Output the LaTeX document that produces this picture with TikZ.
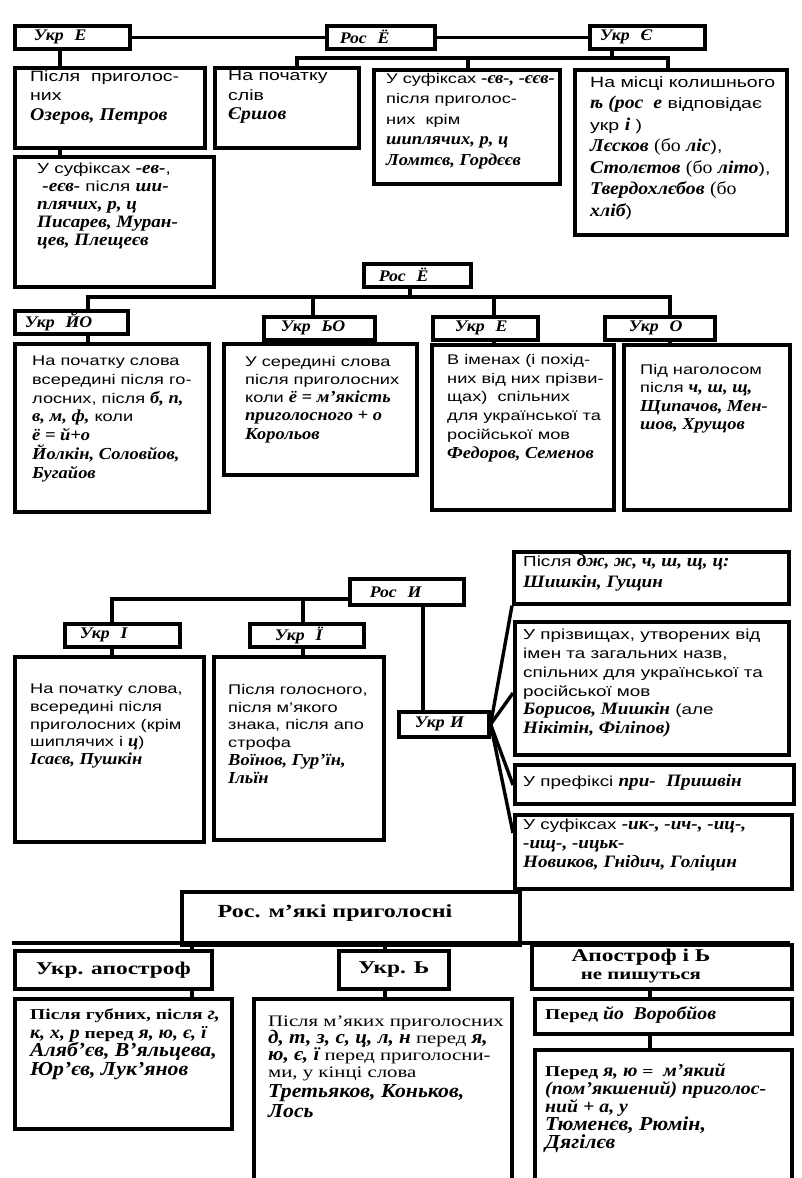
\documentclass[tikz,border=0pt]{standalone}
\usepackage{fontspec}
\setmainfont{Liberation Serif}
\newfontfamily\sansf[FakeStretch=1.3]{Liberation Sans}
\newfontfamily\bif[Scale=1.2,FakeStretch=1.1]{Liberation Serif}
\newfontfamily\serw[FakeStretch=1.3]{Liberation Serif}
\newcommand\bi[1]{{\bif\bfseries\itshape #1}}
\newcommand\rmw[1]{{\bif\mdseries\upshape #1}}
\newcommand\bil[1]{{\bif\bfseries\itshape\fontsize{16.5}{18}\selectfont #1}}
\tikzset{
  ln/.style={line width=3.4pt},
  box/.style={draw, line width=3.6pt, anchor=north west, inner sep=0pt},
  lab/.style={draw, line width=3.6pt, anchor=north west, inner ysep=0pt, align=left, minimum height=23pt,
    font=\bif\bfseries\itshape\fontsize{13.5}{15}\selectfont},
  tx/.style={anchor=north west, align=left, inner sep=0pt},
  hd/.style={draw, line width=3.6pt, anchor=north west, inner sep=0pt, align=center,
    font=\serw\bfseries\fontsize{18}{20}\selectfont},
  hdt/.style={inner sep=0pt, align=center, font=\serw\bfseries\fontsize{18}{20}\selectfont},
}
\begin{document}
\begin{tikzpicture}[x=1pt,y=-1pt]
\fill[white] (0,0) rectangle (801,1178);
\useasboundingbox (0,0) rectangle (801,1178);
\clip (0,0) rectangle (801,1178);

% ---------------- Section 1 ----------------
\node[lab, inner xsep=19pt, text width=77pt] (ue) at (13,24) {Укр\ \ Е};
\node[lab, inner xsep=13pt, text width=82pt] (re) at (325,24) {Рос\ \ Ё};
\node[lab, inner xsep=10pt, text width=95pt] (uye) at (588,24) {Укр\ \ Є};
\draw[ln] (ue) -- (re);
\draw[ln] (re) -- (uye);

\node[box, minimum width=190pt, minimum height=80pt] (b1) at (13,66) {};
\node[tx, font=\sansf\fontsize{15}{19.5}\selectfont] (t1) at (30,70) {Після\ \ приголос-\\них\\\bi{Озеров, Петров}};
\node[box, minimum width=144pt, minimum height=80pt] (b2) at (213,66) {};
\node[tx, font=\sansf\fontsize{15}{19.5}\selectfont] (t2) at (228,70) {На початку\\слів\\\bi{Єршов}};
\node[box, minimum width=186pt, minimum height=114pt] (b3) at (372,68) {};
\node[tx, font=\sansf\fontsize{14}{20.5}\selectfont] (t3) at (386,73) {У суфіксах \bi{-єв-, -єєв-}\\після приголос-\\них\ \ крім\\\bi{шиплячих, р, ц}\\\bi{Ломтєв, Гордєєв}};
\node[box, minimum width=212pt, minimum height=165pt] (b4) at (573,68) {};
\node[tx, font=\sansf\fontsize{15}{21.5}\selectfont] (t4) at (590,76) {На місці колишнього\\\bi{ѣ (рос\ \ е} відповідає\\укр \bi{і} )\\\bi{Лєсков} \rmw{(бо} \bi{ліс}),\\\bi{Столєтов} \rmw{(бо} \bi{літо}),\\\bi{Твердохлєбов} \rmw{(бо}\\\bi{хліб})};
\node[box, minimum width=199pt, minimum height=130pt] (b5) at (13,155) {};
\node[tx, font=\sansf\fontsize{14.5}{18}\selectfont] (t5) at (37,163) {У суфіксах \bi{-ев-},\\\ \bi{-еєв-} після \bi{ши-}\\\bi{плячих, р, ц}\\\bi{Писарев, Муран-}\\\bi{цев, Плещеєв}};

\coordinate (k0) at (60,0);
\draw[ln] (ue.south -| k0) -- (b1.north -| k0);
\draw[ln] (b1.south -| k0) -- (b5.north -| k0);
\coordinate (k1) at (297,58);
\coordinate (k2) at (468,58);
\coordinate (k3) at (668,58);
\coordinate (k4) at (612,58);
\draw[ln] (b2.north -| k1) -- (k1) -- (k3) -- (b4.north -| k3);
\draw[ln] (k2) -- (b3.north -| k2);
\draw[ln] (uye.south -| k4) -- (k4);

% ---------------- Section 2 ----------------
\node[lab, inner xsep=15pt, text width=77pt] (rE) at (362,262) {Рос\ \ Ё};
\node[lab, inner xsep=10pt, text width=93pt] (uyo) at (13,309) {Укр\ \ ЙО};
\node[lab, inner xsep=17pt, text width=77pt] (uyo2) at (262,315) {Укр\ \ ЬО};
\node[lab, inner xsep=22pt, text width=61pt] (ue2) at (431,315) {Укр\ \ Е};
\node[lab, inner xsep=24pt, text width=62pt] (uo) at (603,315) {Укр\ \ О};
\coordinate (m0) at (410,297);
\coordinate (m1) at (88,297);
\coordinate (m2) at (313,297);
\coordinate (m3) at (494,297);
\coordinate (m4) at (670,297);
\draw[ln] (rE.south -| m0) -- (m0);
\draw[ln] (uyo.north -| m1) -- (m1) -- (m4) -- (uo.north -| m4);
\draw[ln] (m2) -- (uyo2.north -| m2);
\draw[ln] (m3) -- (ue2.north -| m3);

\node[box, minimum width=194pt, minimum height=168pt] (c1) at (13,342) {};
\node[tx, font=\sansf\fontsize{14}{18.7}\selectfont] (tc1) at (32,356) {На початку слова\\всередині після го-\\лосних, після \bi{б, п,}\\\bi{в, м, ф,} коли\\\bi{ё = й+о}\\\bi{Йолкін, Соловйов,}\\\bi{Бугайов}};
\node[box, minimum width=193pt, minimum height=131pt] (c2) at (222,342) {};
\node[tx, font=\sansf\fontsize{14}{18.2}\selectfont] (tc2) at (245,356) {У середині слова\\після приголосних\\коли \bi{ё = м’якість}\\\bi{приголосного + о}\\\bi{Корольов}};
\node[box, minimum width=182pt, minimum height=165pt] (c3) at (430,343) {};
\node[tx, font=\sansf\fontsize{14}{18.8}\selectfont] (tc3) at (447,354) {В іменах (і похід-\\них від них прізви-\\щах)\ \ спільних\\для української та\\російської мов\\\bi{Федоров, Семенов}};
\node[box, minimum width=166pt, minimum height=165pt] (c4) at (622,343) {};
\node[tx, font=\sansf\fontsize{14}{18.5}\selectfont] (tc4) at (640,364) {Під наголосом\\після \bi{ч, ш, щ,}\\\bi{Щипачов, Мен-}\\\bi{шов, Хрущов}};
\draw[ln] (uyo.south -| m1) -- (c1.north -| m1);
\draw[ln] (uyo2.south -| m2) -- (c2.north -| m2);
\draw[ln] (ue2.south -| m3) -- (c3.north -| m3);
\draw[ln] (uo.south -| m4) -- (c4.north -| m4);

% ---------------- Section 3 ----------------
\node[lab, inner xsep=20pt, text width=74pt, minimum height=26pt] (rI) at (348,577) {Рос\ \ И};
\node[lab, inner xsep=15pt, text width=85pt] (ui) at (63,622) {Укр\ \ І};
\node[lab, inner xsep=25pt, text width=64pt] (uyi) at (248,622) {Укр\ \ Ї};
\node[lab, inner xsep=16pt, text width=58pt, minimum height=25pt] (uy) at (397,710) {Укр И};
\coordinate (n1) at (112,599);
\coordinate (n2) at (303,599);
\coordinate (n3) at (423,0);
\draw[ln] (ui.north -| n1) -- (n1) -- (rI.west |- n1);
\draw[ln] (n2) -- (uyi.north -| n2);
\draw[ln] (rI.south -| n3) -- (uy.north -| n3);

\node[box, minimum width=189pt, minimum height=185pt] (d1) at (13,655) {};
\node[tx, font=\sansf\fontsize{14}{17.6}\selectfont] (td1) at (30,684) {На початку слова,\\всередині після\\приголосних (крім\\шиплячих і \bi{ц})\\\bi{Ісаєв, Пушкін}};
\node[box, minimum width=170pt, minimum height=183pt] (d2) at (212,655) {};
\node[tx, font=\sansf\fontsize{14}{17.8}\selectfont] (td2) at (228,684) {Після голосного,\\після м’якого\\знака, після апо\\строфа\\\bi{Воїнов, Гур’їн,}\\\bi{Ільїн}};
\draw[ln] (ui.south -| n1) -- (d1.north -| n1);
\draw[ln] (uyi.south -| n2) -- (d2.north -| n2);

\node[box, minimum width=275pt, minimum height=52pt] (r1) at (512,550) {};
\node[tx, font=\sansf\fontsize{14.5}{21}\selectfont] (tr1) at (523,554) {Після \bi{дж, ж, ч, ш, щ, ц:}\\\bi{Шишкін, Гущин}};
\node[box, minimum width=274pt, minimum height=133pt] (r2) at (513,620) {};
\node[tx, font=\sansf\fontsize{14.5}{18.8}\selectfont] (tr2) at (523,629) {У прізвищах, утворених від\\імен та загальних назв,\\спільних для української та\\російської мов\\\bi{Борисов, Мишкін} (але\\\bi{Нікітін, Філіпов)}};
\node[box, minimum width=279pt, minimum height=39pt] (r3) at (513,763) {};
\node[tx, anchor=west, font=\sansf\fontsize{14.5}{18}\selectfont] (tr3) at (523,782) {У префіксі \bi{при-}\ \ \bi{Пришвін}};
\node[box, minimum width=277pt, minimum height=74pt] (r4) at (513,813) {};
\node[tx, font=\sansf\fontsize{14.5}{19}\selectfont] (tr4) at (523,819) {У суфіксах \bi{-ик-, -ич-, -иц-,}\\\bi{-ищ-, -ицьк-}\\\bi{Новиков, Гнідич, Голіцин}};

\coordinate (q2) at (0,693);
\coordinate (q3) at (0,785);
\coordinate (q4) at (0,833);
\draw[ln] (uy.east) -- (r1.south west);
\draw[ln] (uy.east) -- (r2.west |- q2);
\draw[ln] (uy.east) -- (r3.west |- q3);
\draw[ln] (uy.east) -- (r4.west |- q4);

% ---------------- Section 4 ----------------
\node[box, minimum width=338pt, minimum height=53pt] (rm) at (180,890) {};
\node[hdt, font=\serw\bfseries\fontsize{18.5}{21}\selectfont] (rmt) at (335,913) {Рос. м’які приголосні};
\coordinate (p0) at (12,943);
\coordinate (p1) at (790,943);
\draw[ln] (p0) -- (p1);

\node[hd, minimum width=197pt, minimum height=38pt] (ua) at (13,949) {Укр. апостроф};
\node[hd, minimum width=110pt, minimum height=38pt] (ub) at (337,949) {Укр. Ь};
\node[box, minimum width=260pt, minimum height=44pt] (an) at (530,943) {};
\node[hdt] (ant) at (641,966) {Апостроф і Ь\\[-2pt]{\fontsize{16}{17}\selectfont не пишуться}};

\coordinate (s1) at (192,0);
\coordinate (s2) at (385,0);
\coordinate (s3) at (650,0);
\draw[ln] (p0 -| s1) -- (ua.north -| s1);
\draw[ln] (p0 -| s2) -- (ub.north -| s2);

\node[box, minimum width=217pt, minimum height=130pt] (e1) at (13,997) {};
\node[tx, font=\serw\bfseries\fontsize{15}{18.5}\selectfont] (te1) at (30,1009) {Після губних, після \bi{г,}\\\bi{к, х, р} перед \bi{я, ю, є, ї}\\\bil{Аляб’єв, В’яльцева,}\\\bil{Юр’єв, Лук’янов}};
\node[box, minimum width=258pt, minimum height=210pt] (e2) at (252,997) {};
\node[tx, font=\serw\fontsize{16}{17}\selectfont] (te2) at (268,1016) {Після м’яких приголосних\\\bi{д, т, з, с, ц, л, н} перед \bi{я,}\\\bi{ю, є, ї} перед приголосни-\\ми, у кінці слова\\[3pt]\bil{Третьяков, Коньков,}\\[1pt]\bil{Лось}};
\node[box, minimum width=257pt, minimum height=35pt] (g1) at (533,997) {};
\node[tx, anchor=west, font=\serw\bfseries\fontsize{15}{17}\selectfont] (tg1) at (545,1015) {Перед \bi{йо}\ \ \bi{Воробйов}};
\node[box, minimum width=257pt, minimum height=160pt] (g2) at (533,1048) {};
\node[tx, font=\serw\bfseries\fontsize{15}{18}\selectfont] (tg2) at (545,1063) {Перед \bi{я, ю} =\ \ \bi{м’який}\\\bi{(пом’якшений) приголос-}\\\bi{ний + а, у}\\\bil{Тюменєв, Рюмін,}\\\bil{Дягілєв}};
\draw[ln] (ua.south -| s1) -- (e1.north -| s1);
\draw[ln] (ub.south -| s2) -- (e2.north -| s2);
\draw[ln] (an.south -| s3) -- (g1.north -| s3);
\draw[ln] (g1.south -| s3) -- (g2.north -| s3);
\end{tikzpicture}
\end{document}
